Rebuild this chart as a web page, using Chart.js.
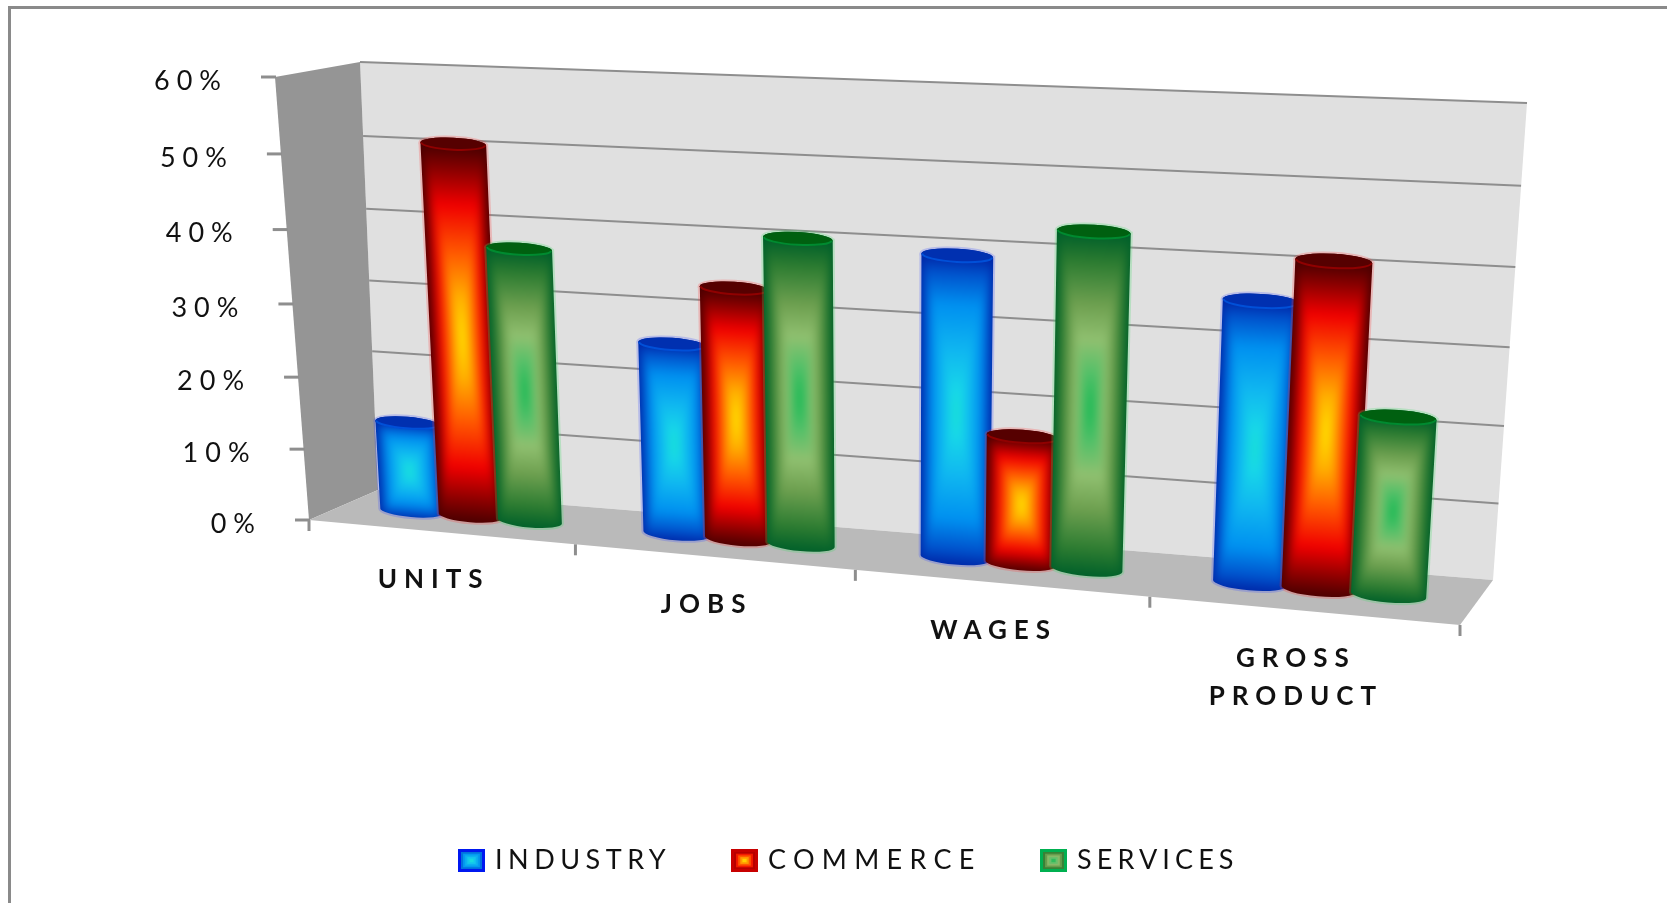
<!DOCTYPE html>
<html>
<head>
<meta charset="utf-8">
<title>Chart</title>
<style>
    html, body { margin: 0; background: #fff; overflow: hidden; }
    canvas { display: block; }
</style>
<script src="https://cdn.jsdelivr.net/npm/chart.js@4/dist/chart.umd.min.js"></script>
</head>
<body>
<canvas id="chart" width="1667" height="903"></canvas>
<script>
const categories = ["UNITS", "JOBS", "WAGES", ["GROSS", "PRODUCT"]];
const seriesNames = ["INDUSTRY", "COMMERCE", "SERVICES"];
const industry = [12.5, 26, 40, 36.5];
const commerce = [51, 34, 17, 42];
const services = [37.5, 41, 44, 23];

// gradient stops go from the edge of a bar to its centre
const industryStops = [[0, "#0028a8"], [0.1, "#0052cc"], [0.3, "#0090f0"], [0.6, "#10b8f0"], [0.85, "#18d8e8"], [1, "#18e0d0"]];
const commerceStops = [[0, "#4a0000"], [0.12, "#8a0000"], [0.3, "#f00000"], [0.55, "#ff5a00"], [0.78, "#ffb000"], [1, "#ffe800"]];
const servicesStops = [[0, "#00602a"], [0.15, "#2a7a30"], [0.4, "#6ea050"], [0.6, "#90c070"], [0.8, "#50c068"], [1, "#10b850"]];
const looks = [
    { stops: industryStops, cap: "#0030b0", rim: "#0050d8", halo: "rgba(60,80,255,0.25)", swatch: "#0018f0", spacing: 5.5, x: 458 },
    { stops: commerceStops, cap: "#560000", rim: "#900000", halo: "rgba(255,60,60,0.25)", swatch: "#c80000", spacing: 7.3, x: 731 },
    { stops: servicesStops, cap: "#006010", rim: "#008a30", halo: "rgba(60,220,100,0.25)", swatch: "#00b050", spacing: 5.1, x: 1040 }
];

// corners of the box on the page: bottom left, bottom right, top right, top left
const backQuad = [[378, 490], [1493, 580], [1527, 103], [360, 62]];
const frontQuad = [[309, 520], [1460, 625], [1487, 138], [275, 77]];
const midQuad = backQuad.map((p, i) => [(p[0] + frontQuad[i][0]) / 2, (p[1] + frontQuad[i][1]) / 2]);

function makeHomography(q) {
    let [x0, y0] = q[0], [x1, y1] = q[1], [x2, y2] = q[2], [x3, y3] = q[3];
    let dx1 = x1 - x2, dx2 = x3 - x2, sx = x0 - x1 + x2 - x3;
    let dy1 = y1 - y2, dy2 = y3 - y2, sy = y0 - y1 + y2 - y3;
    let den = dx1 * dy2 - dx2 * dy1;
    let g = (sx * dy2 - dx2 * sy) / den;
    let h = (dx1 * sy - sx * dy1) / den;
    let a = x1 - x0 + g * x1, b = x3 - x0 + h * x3;
    let d = y1 - y0 + g * y1, e = y3 - y0 + h * y3;
    return (u, v) => {
        let w = g * u + h * v + 1;
        return [(a * u + b * v + x0) / w, (d * u + e * v + y0) / w];
    };
}

const back = makeHomography(backQuad);
const front = makeHomography(frontQuad);
const mid = makeHomography(midQuad);

// bar gradients are painted here first, then blurred onto the chart
const scratch = document.createElement("canvas");
scratch.width = 1667;
scratch.height = 903;

function hexToRgb(c) {
    return [parseInt(c.slice(1, 3), 16), parseInt(c.slice(3, 5), 16), parseInt(c.slice(5, 7), 16)];
}

function stopColor(stops, t) {
    for (let i = 1; i < stops.length; i++) {
        if (t <= stops[i][0]) {
            let k = (t - stops[i - 1][0]) / (stops[i][0] - stops[i - 1][0]);
            let a = hexToRgb(stops[i - 1][1]), b = hexToRgb(stops[i][1]);
            return `rgb(${a.map((c, n) => Math.round(c + (b[n] - c) * k)).join(",")})`;
        }
    }
    return stops[stops.length - 1][1];
}

function fillPoly(ctx, pts, color) {
    ctx.beginPath();
    pts.forEach((p, i) => i ? ctx.lineTo(p[0], p[1]) : ctx.moveTo(p[0], p[1]));
    ctx.closePath();
    ctx.fillStyle = color;
    ctx.fill();
}

function drawLine(ctx, a, b, color, width) {
    ctx.beginPath();
    ctx.moveTo(a[0], a[1]);
    ctx.lineTo(b[0], b[1]);
    ctx.strokeStyle = color;
    ctx.lineWidth = width;
    ctx.stroke();
}

function spacedText(ctx, text, x, y, font, spacing, align) {
    ctx.font = font;
    ctx.letterSpacing = spacing + "px";
    ctx.textAlign = align;
    ctx.textBaseline = "middle";
    ctx.fillStyle = "#111";
    ctx.fillText(text, x, y);
    ctx.letterSpacing = "0px";
}

function drawCylinder(ctx, u, halfU, top, look) {
    let l0 = mid(u - halfU, 0), r0 = mid(u + halfU, 0);
    let l1 = mid(u - halfU, top), r1 = mid(u + halfU, top);
    let c0 = mid(u, 0), c1 = mid(u, top);
    let rx0 = Math.hypot(r0[0] - l0[0], r0[1] - l0[1]) / 2;
    let rx1 = Math.hypot(r1[0] - l1[0], r1[1] - l1[1]) / 2;
    let a0 = Math.atan2(r0[1] - l0[1], r0[0] - l0[0]);
    let a1 = Math.atan2(r1[1] - l1[1], r1[0] - l1[0]);
    let ry0 = rx0 * 0.2, ry1 = rx1 * 0.19;

    let outline = () => {
        ctx.beginPath();
        ctx.moveTo(l1[0], l1[1]);
        ctx.lineTo(l0[0], l0[1]);
        ctx.ellipse(c0[0], c0[1], rx0, ry0, a0, Math.PI, 0, true);
        ctx.lineTo(r1[0], r1[1]);
        ctx.ellipse(c1[0], c1[1], rx1, ry1, a1, 0, Math.PI, true);
        ctx.closePath();
    };

    outline();
    ctx.strokeStyle = look.halo;
    ctx.lineWidth = 4;
    ctx.stroke();

    let sc = scratch.getContext("2d");
    sc.clearRect(0, 0, scratch.width, scratch.height);
    let baseDrop = 0.02;
    let vc = (top - baseDrop) / 2, fullV = (top + baseDrop) / 2;
    fillPoly(sc, [
        mid(u - halfU * 1.6, vc - fullV * 1.3), mid(u + halfU * 1.6, vc - fullV * 1.3),
        mid(u + halfU * 1.6, vc + fullV * 1.3), mid(u - halfU * 1.6, vc + fullV * 1.3)
    ], look.stops[0][1]);
    let steps = 50;
    for (let i = 0; i < steps; i++) {
        let t = i / steps;
        let hu = halfU * (1 - t), hv = fullV * (1 - t);
        fillPoly(sc, [
            mid(u - hu, vc - hv), mid(u + hu, vc - hv),
            mid(u + hu, vc + hv), mid(u - hu, vc + hv)
        ], stopColor(look.stops, t));
    }

    ctx.save();
    outline();
    ctx.clip();
    ctx.filter = "blur(4px)";
    ctx.drawImage(scratch, 0, 0);
    ctx.restore();

    ctx.beginPath();
    ctx.ellipse(c1[0], c1[1], rx1, ry1, a1, 0, Math.PI * 2);
    ctx.fillStyle = look.cap;
    ctx.fill();
    ctx.beginPath();
    ctx.ellipse(c1[0], c1[1], rx1 - 1, ry1 - 0.5, a1, Math.PI, 0, true);
    ctx.strokeStyle = look.rim;
    ctx.lineWidth = 2;
    ctx.stroke();
}

function drawSwatch(ctx, x, y, w, h, look) {
    ctx.fillStyle = look.swatch;
    ctx.fillRect(x, y, w, h);
    let rings = 5;
    for (let i = 0; i < rings; i++) {
        let ix = 3 + i * (w / 2 - 3) / rings, iy = 3 + i * (h / 2 - 3) / rings;
        ctx.fillStyle = stopColor(look.stops, 0.2 + 0.7 * i / (rings - 1));
        ctx.fillRect(x + ix, y + iy, w - ix * 2, h - iy * 2);
    }
}

const box3d = {
    id: "box3d",
    beforeDatasetsDraw(chart) {
        let ctx = chart.ctx;
        let yScale = chart.scales.y, xScale = chart.scales.x;
        let area = chart.chartArea;

        // outer frame, only top and left are inside the picture
        ctx.fillStyle = "#8a8a8a";
        ctx.fillRect(8, 6, 1659, 3);
        ctx.fillRect(8, 6, 3, 897);

        fillPoly(ctx, backQuad, "#e0e0e0");
        fillPoly(ctx, [frontQuad[3], backQuad[3], backQuad[0], frontQuad[0]], "#959595");
        fillPoly(ctx, [backQuad[0], backQuad[1], frontQuad[1], frontQuad[0]], "#bababa");

        yScale.ticks.forEach(tick => {
            let v = (area.bottom - yScale.getPixelForValue(tick.value)) / area.height;
            if (v > 0) drawLine(ctx, back(0, v), back(1, v), "#8e8e8e", 2);
            let p = front(0, v);
            drawLine(ctx, [p[0] - 14, p[1]], [p[0] + 1, p[1]], "#8e8e8e", 3);
            spacedText(ctx, tick.label, p[0] - 47, p[1] + 4, "27px Lato", 7, "right");
        });

        categories.forEach((name, i) => {
            let px = xScale.getPixelForValue(i);
            let step = area.width / categories.length;
            let edge = front((px + step / 2 - area.left) / area.width, 0);
            drawLine(ctx, edge, [edge[0], edge[1] + 11], "#8e8e8e", 3);
            if (i === 0) {
                let first = front(0, 0);
                drawLine(ctx, first, [first[0], first[1] + 11], "#8e8e8e", 3);
            }
            let p = front((px - area.left) / area.width, 0);
            [].concat(name).forEach((line, n) => {
                spacedText(ctx, line, p[0] - 7, p[1] + 48 + n * 38, "bold 26px Lato", 7, "center");
            });
        });

        seriesNames.forEach((name, i) => {
            drawSwatch(ctx, looks[i].x, 849, 27, 23, looks[i]);
            spacedText(ctx, name, looks[i].x + 37, 860, "27px Lato", looks[i].spacing, "left");
        });
    },
    // default flat bars are replaced by the cylinders below
    beforeDatasetDraw() {
        return false;
    },
    afterDatasetsDraw(chart) {
        let ctx = chart.ctx, area = chart.chartArea;
        chart.data.datasets.forEach((ds, i) => {
            chart.getDatasetMeta(i).data.forEach(bar => {
                let u = (bar.x - area.left) / area.width - 0.002;
                let halfU = (bar.width / 2) * 1.07 / area.width;
                let top = (area.bottom - bar.y) / area.height;
                drawCylinder(ctx, u, halfU, top, looks[i]);
            });
        });
    }
};

new Chart(document.getElementById("chart"), {
    type: "bar",
    data: {
        labels: categories,
        datasets: [
            { label: seriesNames[0], data: industry, backgroundColor: "#0090f0" },
            { label: seriesNames[1], data: commerce, backgroundColor: "#f00000" },
            { label: seriesNames[2], data: services, backgroundColor: "#6ea050" }
        ]
    },
    options: {
        responsive: false,
        animation: false,
        layout: { padding: 20 },
        categoryPercentage: 0.68,
        barPercentage: 1,
        plugins: { legend: { display: false }, tooltip: { enabled: false } },
        scales: {
            x: { display: false },
            y: {
                display: false,
                min: 0,
                max: 60,
                ticks: { stepSize: 10, callback: v => v + "%" }
            }
        }
    },
    plugins: [box3d]
});
</script>
</body>
</html>
